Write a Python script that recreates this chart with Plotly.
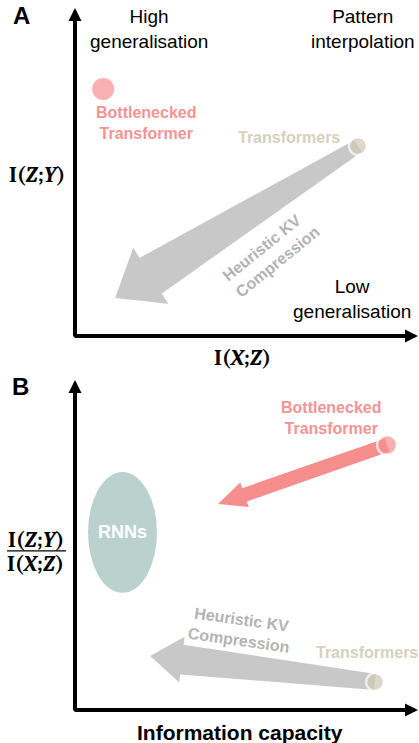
import numpy as np
import plotly.graph_objects as go

W, H = 419, 743

# ---------------- data (conceptual units: 0 = origin, 1 = end of axis) ----------------
# Panel A : I(X;Z) (x) vs I(Z;Y) (y)
a_models = ["Bottlenecked<br>Transformer", "Transformers"]
a_x = [0.082, 0.825]
a_y = [0.753, 0.579]
a_arrow_tip = [0.117, 0.116]          # heuristic KV compression moves Transformers here
a_quadrants = ["High<br>generalisation", "Pattern<br>interpolation", "Low<br>generalisation"]
a_quad_x = [0.216, 0.840, 0.808]
a_quad_y = [0.936, 0.936, 0.113]

# Panel B : information capacity (x) vs I(Z;Y)/I(X;Z) (y)
b_models = ["Bottlenecked<br>Transformer", "Transformers"]
b_x = [0.910, 0.875]
b_y = [0.803, 0.085]
b_arrow_tips_x = [0.417, 0.219]
b_arrow_tips_y = [0.624, 0.164]
rnn_x = [0.038, 0.239]
rnn_y = [0.355, 0.721]

# ---------------- styles ----------------
PINK = "#F78E8E"
PINK_TXT = "#F59393"
TAN = "#CFCAB5"
TAN_TXT = "#D5D1BD"
GRAY = "#C8C8C8"
GRAY_TXT = "#B3B3B3"
RNN = "#BAD1CD"
SANS = "Arial, Liberation Sans, sans-serif"
SERIF = "Cambria, Liberation Serif, serif"

# pixel scale of one conceptual unit
SX = 343.0
SY_A = 328.0
SY_B = 330.0

# axis ranges (panel occupies the figure region, origin placed at the axis corner)
XR = [-75 / SX, 344 / SX]
YR_A = [-34 / SY_A, 336 / SY_A]
YR_B = [-33 / SY_B, 340 / SY_B]
split = 1 - 370 / H


def arrow_polygon(x0, y0, x1, y1, sy, w0, w1, hw, hl):
    """Tapered block arrow from (x0,y0) to tip (x1,y1); widths in pixels."""
    p0 = np.array([x0 * SX, y0 * sy])
    p1 = np.array([x1 * SX, y1 * sy])
    d = p1 - p0
    u = d / np.linalg.norm(d)
    n = np.array([-u[1], u[0]])
    b = p1 - u * hl
    pts = [p0 + n * w0, b + n * w1, b + n * hw, p1, b - n * hw, b - n * w1, p0 - n * w0, p0 + n * w0]
    xs = [p[0] / SX for p in pts]
    ys = [p[1] / sy for p in pts]
    return xs, ys


fig = go.Figure()


def add_poly(xs, ys, color, xa, ya):
    fig.add_trace(go.Scatter(x=xs, y=ys, mode="lines", fill="toself", fillcolor=color,
                             line=dict(width=0, color=color), hoverinfo="skip",
                             showlegend=False, xaxis=xa, yaxis=ya))


# ---- Panel A arrow ----
xs, ys = arrow_polygon(a_x[1], a_y[1], a_arrow_tip[0], a_arrow_tip[1], SY_A, 7, 21, 33, 42)
add_poly(xs, ys, GRAY, "x", "y")

# ---- Panel B arrows ----
xs, ys = arrow_polygon(b_x[0], b_y[0], b_arrow_tips_x[0], b_arrow_tips_y[0], SY_B, 7, 7, 13, 28)
add_poly(xs, ys, PINK, "x2", "y2")
xs, ys = arrow_polygon(b_x[1], b_y[1], b_arrow_tips_x[1], b_arrow_tips_y[1], SY_B, 8, 15, 23, 32)
add_poly(xs, ys, GRAY, "x2", "y2")

# ---- markers ----
fig.add_trace(go.Scatter(x=a_x, y=a_y, mode="markers", hoverinfo="skip", showlegend=False,
                         marker=dict(size=[22, 18], color=[PINK, TAN],
                                     line=dict(width=[0, 2.5], color="white")),
                         xaxis="x", yaxis="y"))
fig.add_trace(go.Scatter(x=b_x, y=b_y, mode="markers", hoverinfo="skip", showlegend=False,
                         marker=dict(size=[20, 18], color=[PINK, TAN],
                                     line=dict(width=2.5, color="white")),
                         xaxis="x2", yaxis="y2"))

shapes = [
    dict(type="circle", xref="x2", yref="y2", x0=rnn_x[0], x1=rnn_x[1], y0=rnn_y[0], y1=rnn_y[1],
         fillcolor=RNN, line=dict(width=0), layer="below"),
    # fraction bar of the panel B y label
    dict(type="line", xref="x2", yref="y2", x0=-0.198, x1=-0.026, y0=0.482, y1=0.482,
         line=dict(color="black", width=1.2)),
]

ann = []


def axis_arrow(xa, ya, x0, y0, x1, y1):
    ann.append(dict(x=x1, y=y1, ax=x0, ay=y0, xref=xa, yref=ya, axref=xa, ayref=ya,
                    text="", showarrow=True, arrowhead=2, arrowsize=0.65, arrowwidth=4,
                    arrowcolor="black", standoff=0, startstandoff=0))


axis_arrow("x", "y", 0, -0.006, 0, 1.0)
axis_arrow("x", "y", -0.006, 0, 1.0, 0)
axis_arrow("x2", "y2", 0, -0.006, 0, 1.0)
axis_arrow("x2", "y2", -0.006, 0, 1.0, 0)


def txt(xa, ya, x, y, s, size, color="black", bold=False, family=SANS, angle=0, align="center"):
    ann.append(dict(x=x, y=y, xref=xa, yref=ya, text=(f"<b>{s}</b>" if bold else s),
                    showarrow=False, textangle=angle, align=align,
                    font=dict(family=family, size=size, color=color),
                    xanchor="center", yanchor="middle"))


# Panel A texts
txt("x", "y", -0.157, 0.976, "A", 24, bold=True)
for q, qx, qy in zip(a_quadrants, a_quad_x, a_quad_y):
    txt("x", "y", qx, qy, q, 19)
txt("x", "y", a_x[0] + 0.125, a_y[0] - 0.104, a_models[0], 16, PINK_TXT, bold=True)
txt("x", "y", a_x[1] - 0.201, a_y[1] + 0.025, a_models[1], 16, TAN_TXT, bold=True)
txt("x", "y", 0.571, 0.25, "Heuristic KV<br>Compression", 16, GRAY_TXT, bold=True, angle=-39, align="left")
txt("x", "y", 0.487, -0.067, "I(<i>X</i>;<i>Z</i>)", 22, bold=True, family=SERIF)
txt("x", "y", -0.111, 0.491, "I(<i>Z</i>;<i>Y</i>)", 22, bold=True, family=SERIF)

# Panel B texts
txt("x2", "y2", -0.160, 0.979, "B", 24, bold=True)
txt("x2", "y2", b_x[0] - 0.164, b_y[0] + 0.082, b_models[0], 16, PINK_TXT, bold=True)
txt("x2", "y2", b_x[1] - 0.024, b_y[1] + 0.088, b_models[1], 16, TAN_TXT, bold=True)
txt("x2", "y2", sum(rnn_x) / 2, sum(rnn_y) / 2, "RNNs", 18, "white", bold=True)
txt("x2", "y2", 0.481, 0.242, "Heuristic KV<br>Compression", 16, GRAY_TXT, bold=True, angle=8)
txt("x2", "y2", 0.481, -0.067, "Information capacity", 21, bold=True)
txt("x2", "y2", -0.114, 0.514, "I(<i>Z</i>;<i>Y</i>)", 22, bold=True, family=SERIF)
txt("x2", "y2", -0.114, 0.443, "I(<i>X</i>;<i>Z</i>)", 22, bold=True, family=SERIF)

ax_common = dict(visible=False, showgrid=False, zeroline=False, fixedrange=True)
fig.update_layout(
    width=W, height=H, margin=dict(l=0, r=0, t=0, b=0),
    paper_bgcolor="white", plot_bgcolor="white", showlegend=False,
    xaxis=dict(domain=[0, 1], range=XR, anchor="y", **ax_common),
    yaxis=dict(domain=[split, 1], range=YR_A, anchor="x", **ax_common),
    xaxis2=dict(domain=[0, 1], range=XR, anchor="y2", **ax_common),
    yaxis2=dict(domain=[0, split], range=YR_B, anchor="x2", **ax_common),
    shapes=shapes, annotations=ann,
)
fig.update_traces(cliponaxis=False, selector=dict(mode="markers"))

fig.write_html(
    "out.html",
    config={"displayModeBar": False},
    post_script="document.body.style.margin='0';document.body.style.overflow='hidden';",
)
